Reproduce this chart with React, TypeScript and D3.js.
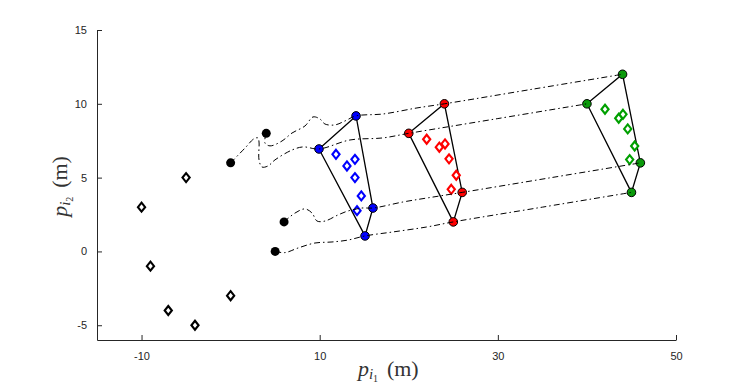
import React, { useEffect, useRef } from 'react';
import * as d3 from 'd3';

// points (metres)
const startPoints: [number, number][] = [[0, 6], [4, 8], [6, 2], [5, 0]];
const blackTargets: [number, number][] = [[-10, 3], [-9, -1], [-7, -4], [-5, 5], [-4, -5], [0, -3]];

const blueFormation: [number, number][] = [[9.92, 6.94], [14.08, 9.18], [15.98, 2.94], [15.09, 1.05]];
const redFormation: [number, number][] = [[20, 8], [24, 10], [26, 4], [25, 2]];
const greenFormation: [number, number][] = [[40, 10], [44, 12], [46, 6], [45, 4]];

const blueTargets: [number, number][] = [[11.83, 6.58], [13.06, 5.79], [13.96, 6.24], [13.96, 5.0], [14.67, 3.76], [14.19, 2.76]];
const redTargets: [number, number][] = [[22.01, 7.6], [23.43, 7.06], [24.07, 7.28], [24.52, 6.27], [25.33, 5.16], [24.77, 4.21]];
const greenTargets: [number, number][] = [[42.03, 9.63], [43.57, 9.02], [44.05, 9.29], [44.58, 8.3], [45.36, 7.14], [44.8, 6.22]];

// trajectories of the four agents
const path1: [number, number][] = [
  [0, 6], [1.61, 7.0], [2.62, 7.63], [3.07, 7.69], [3.19, 7.41], [3.19, 6.2], [3.52, 5.72], [4.2, 5.79],
  [4.98, 6.2], [6.89, 6.87], [8.13, 7.08], [9.92, 6.94], [13.4, 7.55], [17.1, 7.69], [20, 8], [30, 9], [40, 10]
];
const path2: [number, number][] = [
  [4, 8], [3.85, 7.35], [4.42, 7.15], [5.77, 7.48], [6.89, 8.02], [8.35, 8.5], [9.25, 9.11], [10.03, 8.97],
  [10.6, 8.63], [11.72, 8.57], [12.84, 8.84], [14.08, 9.18], [17.1, 9.31], [20.92, 9.72], [24, 10], [34, 11], [44, 12]
];
const path3: [number, number][] = [
  [6, 2], [7.23, 2.6], [8.35, 2.88], [9.14, 2.6], [9.7, 2.06], [10.6, 2.06], [12.05, 2.47], [13.18, 2.74],
  [14.75, 2.94], [15.98, 2.94], [19.35, 3.35], [22.05, 3.62], [26, 4], [36, 5], [46, 6]
];
const path4: [number, number][] = [
  [5, 0], [6.1, -0.08], [7.56, 0.23], [9.47, 0.57], [11.38, 0.64], [13.18, 0.77], [15.09, 1.05],
  [18.23, 1.32], [22.05, 1.66], [25, 2], [35, 3], [45, 4]
];

const xTicks = [-10, 10, 30, 50];
const yTicks = [-5, 0, 5, 10, 15];

const W = 747;
const H = 384;

export default function App() {
  const ref = useRef<SVGSVGElement>(null);

  useEffect(() => {
    const svg = d3.select(ref.current);
    svg.selectAll('*').remove();

    const x = d3.scaleLinear().domain([-15, 50]).range([97, 676]);
    const y = d3.scaleLinear().domain([-6, 15]).range([340, 30]);
    const axisColor = '#262626';
    const fmt = (d: d3.NumberValue) => String(d);

    // axes
    const xAxis = svg.append('g').attr('transform', `translate(0,${y(-6)})`)
      .call(d3.axisBottom(x).tickValues(xTicks).tickFormat(fmt).tickSizeInner(-5).tickSizeOuter(0).tickPadding(12));
    const yAxis = svg.append('g').attr('transform', `translate(${x(-15)},0)`)
      .call(d3.axisLeft(y).tickValues(yTicks).tickFormat(fmt).tickSizeInner(-5).tickSizeOuter(0).tickPadding(10));
    [xAxis, yAxis].forEach(a => {
      a.attr('color', axisColor);
      a.select('.domain').attr('stroke', axisColor);
      a.selectAll('line').attr('stroke', axisColor);
      a.selectAll('text').attr('fill', axisColor).attr('font-size', 11)
        .attr('font-family', '"Liberation Sans", Arial, sans-serif');
    });

    const line = d3.line<[number, number]>().x(d => x(d[0])).y(d => y(d[1]));
    const smooth = d3.line<[number, number]>().x(d => x(d[0])).y(d => y(d[1])).curve(d3.curveCatmullRom.alpha(0.5));

    // formations
    [blueFormation, redFormation, greenFormation].forEach(f => {
      svg.append('path').attr('d', line([...f, f[0]])).attr('fill', 'none')
        .attr('stroke', '#000').attr('stroke-width', 1.3);
    });

    // diamonds
    const diamond = (cx: number, cy: number) =>
      `M${cx},${cy - 4.5}L${cx + 3.6},${cy}L${cx},${cy + 4.5}L${cx - 3.6},${cy}Z`;
    const drawTargets = (pts: [number, number][], color: string) => {
      svg.append('g').selectAll('path').data(pts).join('path')
        .attr('d', d => diamond(x(d[0]), y(d[1])))
        .attr('fill', '#fff').attr('stroke', color).attr('stroke-width', 2.1);
    };
    drawTargets(blackTargets, '#000');
    drawTargets(blueTargets, '#0000ff');
    drawTargets(redTargets, '#ff0000');
    drawTargets(greenTargets, '#00a000');

    // agents
    svg.append('g').selectAll('circle').data(startPoints).join('circle')
      .attr('cx', d => x(d[0])).attr('cy', d => y(d[1])).attr('r', 4.5).attr('fill', '#000');
    const drawAgents = (pts: [number, number][], color: string) => {
      svg.append('g').selectAll('circle').data(pts).join('circle')
        .attr('cx', d => x(d[0])).attr('cy', d => y(d[1])).attr('r', 4.3)
        .attr('fill', color).attr('stroke', '#000').attr('stroke-width', 1);
    };
    drawAgents(blueFormation, '#0000ff');
    drawAgents(redFormation, '#ff0000');
    drawAgents(greenFormation, '#0a9a0a');

    // trajectories
    [path1, path2, path3, path4].forEach(p => {
      svg.append('path').attr('d', smooth(p)).attr('fill', 'none')
        .attr('stroke', '#000').attr('stroke-width', 1)
        .attr('stroke-dasharray', '6,3,1.5,3');
    });

    // axis labels
    const serif = '"Liberation Serif", "Times New Roman", serif';
    const label = (g: d3.Selection<SVGTextElement, unknown, null, undefined>, sub: string) => {
      g.attr('font-family', serif).attr('font-size', 22).attr('fill', '#333').attr('text-anchor', 'middle');
      g.append('tspan').attr('font-style', 'italic').text('p');
      g.append('tspan').attr('font-style', 'italic').attr('font-size', 15).attr('dy', 3).text('i');
      g.append('tspan').attr('font-size', 10).attr('dy', 2.5).text(sub);
      g.append('tspan').attr('dy', -5.5).text('\u2009\u2009(m)');
    };
    label(svg.append('text').attr('x', x(17.7)).attr('y', 376), '1');
    label(svg.append('text').attr('transform', `translate(67,${y(4.4)}) rotate(-90)`), '2');
  }, []);

  return (
    <svg ref={ref} width={W} height={H}
      style={{ position: 'absolute', left: 0, top: 0, background: '#fff' }} />
  );
}
